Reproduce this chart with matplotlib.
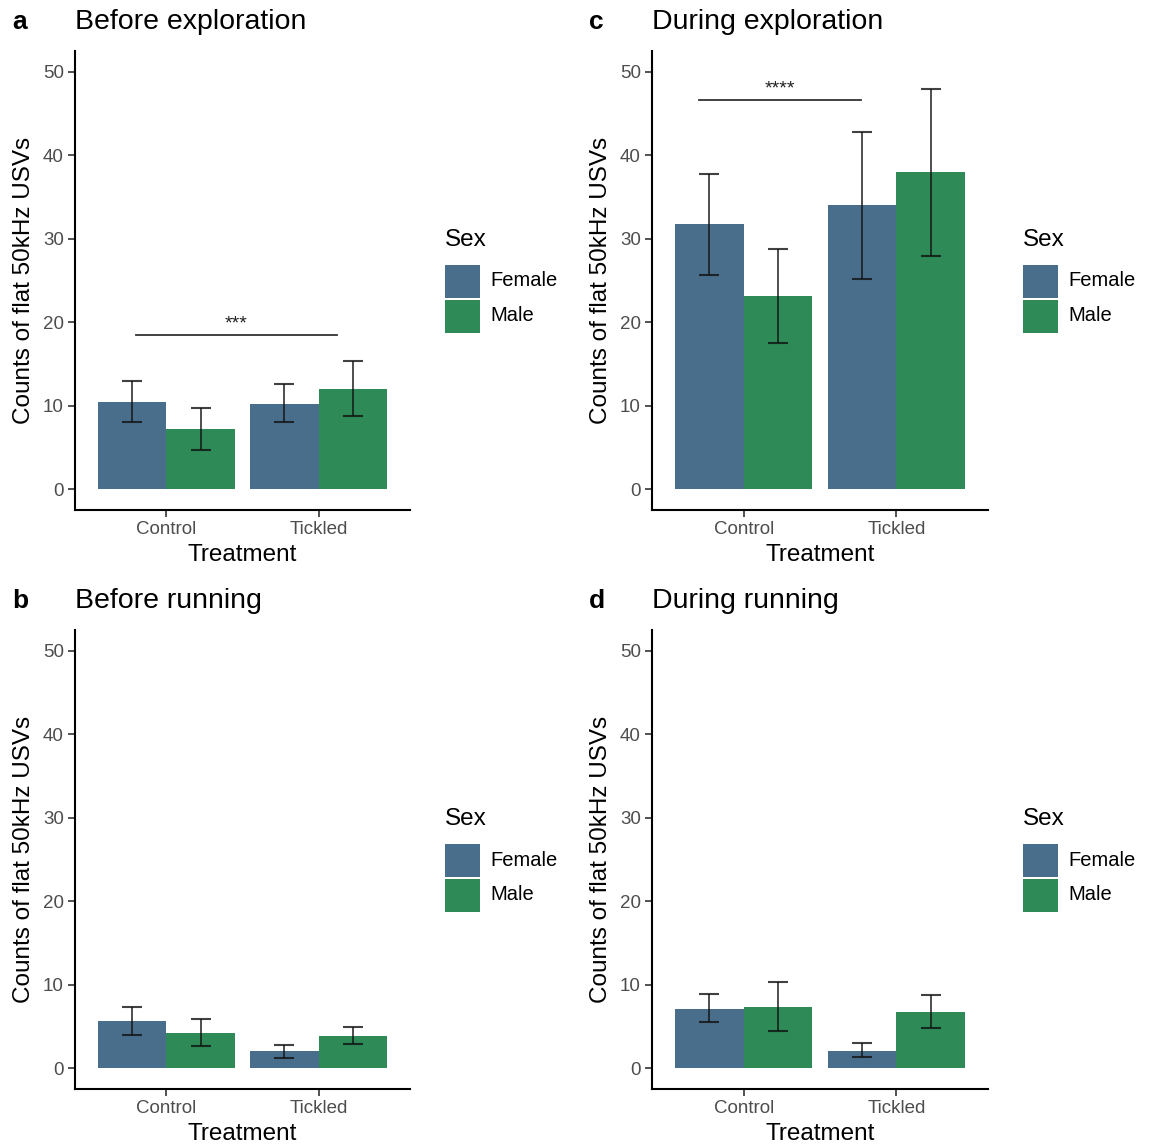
import matplotlib
matplotlib.use("Agg")
import matplotlib.pyplot as plt
from matplotlib.patches import Rectangle
import numpy as np

plt.rcParams['font.family'] = ['Liberation Sans', 'DejaVu Sans']

treatments = ["Control", "Tickled"]
sexes = ["Female", "Male"]
colors = {"Female": "#486e8c", "Male": "#2e8b57"}

panel_letters = ["a", "c", "b", "d"]
panel_titles = ["Before exploration", "During exploration", "Before running", "During running"]

# means [Control, Tickled]
before_expl_female = [10.4, 10.2]
before_expl_male = [7.2, 12.0]
before_expl_female_lo = [8.0, 8.0]
before_expl_female_hi = [13.0, 12.6]
before_expl_male_lo = [4.7, 8.8]
before_expl_male_hi = [9.7, 15.3]

during_expl_female = [31.8, 34.0]
during_expl_male = [23.2, 38.0]
during_expl_female_lo = [25.7, 25.2]
during_expl_female_hi = [37.8, 42.8]
during_expl_male_lo = [17.5, 27.9]
during_expl_male_hi = [28.8, 48.0]

before_run_female = [5.6, 2.0]
before_run_male = [4.25, 3.8]
before_run_female_lo = [4.0, 1.2]
before_run_female_hi = [7.3, 2.8]
before_run_male_lo = [2.6, 2.9]
before_run_male_hi = [5.9, 4.9]

during_run_female = [7.1, 2.1]
during_run_male = [7.35, 6.75]
during_run_female_lo = [5.5, 1.35]
during_run_female_hi = [8.9, 3.05]
during_run_male_lo = [4.5, 4.85]
during_run_male_hi = [10.3, 8.75]

# significance annotations: (x_start, x_end, y, label) ; None if absent
sig_before_expl = (0.80, 2.12, 18.5, "***")
sig_during_expl = (0.71, 1.77, 46.6, "****")

panels = [
    (before_expl_female, before_expl_male, before_expl_female_lo, before_expl_female_hi,
     before_expl_male_lo, before_expl_male_hi, sig_before_expl),
    (during_expl_female, during_expl_male, during_expl_female_lo, during_expl_female_hi,
     during_expl_male_lo, during_expl_male_hi, sig_during_expl),
    (before_run_female, before_run_male, before_run_female_lo, before_run_female_hi,
     before_run_male_lo, before_run_male_hi, None),
    (during_run_female, during_run_male, during_run_female_lo, during_run_female_hi,
     during_run_male_lo, during_run_male_hi, None),
]

W, H = 1150, 1145
fig = plt.figure(figsize=(W / 100, H / 100), dpi=100)

# axes pixel boxes: (left, top, right, bottom)
boxes = [(75, 51, 410, 510), (652, 51, 988, 510), (75, 630, 410, 1089), (652, 630, 988, 1089)]

def fx(px):
    return px / W

def fy(py):
    return 1 - py / H

for i, (box, data) in enumerate(zip(boxes, panels)):
    l, t, r, b = box
    ax = fig.add_axes([fx(l), fy(b), fx(r - l), (b - t) / H])
    fem, mal, flo, fhi, mlo, mhi, sig = data
    x = np.arange(1, len(treatments) + 1)
    bw = 0.45
    ax.bar(x - bw / 2, fem, width=bw, color=colors["Female"], linewidth=0)
    ax.bar(x + bw / 2, mal, width=bw, color=colors["Male"], linewidth=0)
    fem = np.array(fem); mal = np.array(mal)
    ax.errorbar(x - bw / 2, fem, yerr=[fem - np.array(flo), np.array(fhi) - fem],
                fmt='none', ecolor='#111111', alpha=0.8, elinewidth=1.3, capsize=7, capthick=1.5)
    ax.errorbar(x + bw / 2, mal, yerr=[mal - np.array(mlo), np.array(mhi) - mal],
                fmt='none', ecolor='#111111', alpha=0.8, elinewidth=1.3, capsize=7, capthick=1.5)
    if sig is not None:
        x0, x1, yy, lab = sig
        ax.plot([x0, x1], [yy, yy], color='#333333', lw=1.3)
        ax.text((x0 + x1) / 2, yy + 0.3, lab, ha='center', va='bottom', fontsize=14, color='#222222')
    ax.set_xlim(0.4, 2.6)
    ax.set_ylim(-2.5, 52.5)
    ax.set_xticks(x)
    ax.set_xticklabels(treatments)
    ax.set_yticks([0, 10, 20, 30, 40, 50])
    for s in ['top', 'right']:
        ax.spines[s].set_visible(False)
    for s in ['left', 'bottom']:
        ax.spines[s].set_linewidth(1.5)
        ax.spines[s].set_color('black')
    ax.tick_params(axis='both', colors='#333333', labelcolor='#4d4d4d', labelsize=13.5,
                   length=5, width=1.2, pad=3)
    ax.set_xlabel("Treatment", fontsize=17.5, color='black', labelpad=4)
    ax.set_ylabel("Counts of flat 50kHz USVs", fontsize=17.5, color='black', labelpad=6)

    # titles
    fig.text(fx(l), fy(t - 29), panel_titles[i], fontsize=20.5, ha='left', va='center', color='black')
    fig.text(fx(l - 63), fy(t - 29), panel_letters[i], fontsize=19, fontweight='bold',
             ha='left', va='center', color='black')

    # legend
    lx = r + 35
    ly = t + 189
    fig.text(fx(lx), fy(ly), "Sex", fontsize=17.5, ha='left', va='center', color='black')
    for j, sname in enumerate(sexes):
        ky = ly + 25 + j * 35
        fig.add_artist(Rectangle((fx(lx), fy(ky + 33)), fx(35), 33 / H,
                                 transform=fig.transFigure, facecolor=colors[sname],
                                 edgecolor='none'))
        fig.text(fx(lx + 45), fy(ky + 16), sname, fontsize=14.5, ha='left', va='center',
                 color='black')

fig.savefig("out.png", dpi=100, facecolor='white')
